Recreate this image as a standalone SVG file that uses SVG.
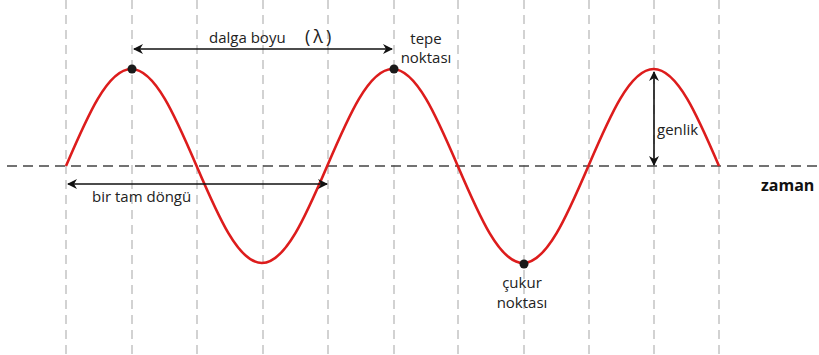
<svg xmlns="http://www.w3.org/2000/svg" width="819" height="355" viewBox="0 0 819 355">
<style>
.grid{stroke:#c4c4c4;stroke-width:1.5;stroke-dasharray:9 6;fill:none}
.axis{stroke:#444;stroke-width:1.5;stroke-dasharray:10 6;fill:none}
.wave{stroke:#dd1c1c;stroke-width:2.6;fill:none}
.dim{stroke:#111;stroke-width:1.6;fill:none;marker-start:url(#ah);marker-end:url(#ah)}
.lbl{font-family:"Open Sans","Liberation Sans",sans-serif;font-size:15px;fill:#222}
.bold{font-family:"Open Sans","Liberation Sans",sans-serif;font-size:16px;font-weight:700;fill:#111}
.dot{fill:#1a1a1a}
</style>
<defs>
<marker id="ah" viewBox="0 0 12 12" refX="10" refY="6" markerWidth="12" markerHeight="12" markerUnits="userSpaceOnUse" orient="auto-start-reverse">
<path d="M1,1 L11,6 L1,11 L4,6 Z" fill="#111"/>
</marker>
</defs>
<rect width="819" height="355" fill="#fff"/>
<g id="grid">
<path class="grid" d="M66,0V355M132,0V355M197,0V355M263,0V355M328,0V355M394,0V355M458,0V355M524,0V355M589,0V355M654,0V355M719,0V355"/>
</g>
<g id="axis">
<path class="axis" d="M7,166H819"/>
<text class="bold" x="761" y="191">zaman</text>
</g>
<g id="wave">
<path class="wave" d="M66,166c21.3,-49.7 41.7,-97 65.3,-97c23.6,0 44,47.3 65.3,97c21.3,49.7 41.7,97 65.3,97c23.6,0 44,-47.3 65.3,-97c21.3,-49.7 41.7,-97 65.3,-97c23.6,0 44,47.3 65.3,97c21.3,49.7 41.7,97 65.3,97c23.6,0 44,-47.3 65.3,-97c21.3,-49.7 41.7,-97 65.3,-97c23.6,0 44,47.3 65.3,97"/>
</g>
<g id="connectors">
<line class="dim" x1="134" y1="49" x2="392" y2="49"/>
<line class="dim" x1="68" y1="184" x2="327" y2="184"/>
<line class="dim" x1="654" y1="72" x2="654" y2="165"/>
</g>
<g id="tepe1"><circle class="dot" cx="132" cy="69" r="4.5"/></g>
<g id="tepe2"><circle class="dot" cx="394" cy="69" r="4.5"/>
<text class="lbl" text-anchor="middle"><tspan x="426" y="44">tepe</tspan><tspan x="426" y="63">noktası</tspan></text></g>
<g id="cukur"><circle class="dot" cx="524" cy="264" r="4.5"/>
<text class="lbl" text-anchor="middle"><tspan x="522" y="288">çukur</tspan><tspan x="522" y="308">noktası</tspan></text></g>
<g id="dalgaboyu"><text class="lbl" x="209" y="43">dalga boyu<tspan x="305" font-size="18" letter-spacing="3">(λ)</tspan></text></g>
<g id="dongu"><text class="lbl" x="92" y="202">bir tam döngü</text></g>
<g id="genlik"><text class="lbl" x="657" y="135">genlik</text></g>
</svg>
